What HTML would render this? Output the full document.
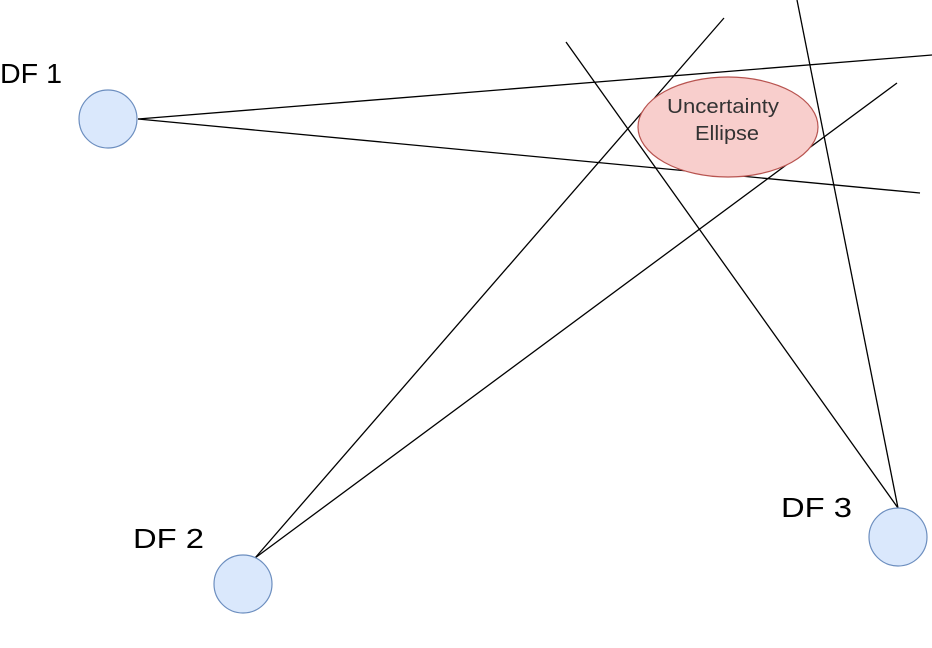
<!DOCTYPE html>
<html><head><style>body{margin:0;background:#fff}svg{display:block}</style></head>
<body>
<svg width="932" height="648" viewBox="0 0 932 648" xmlns="http://www.w3.org/2000/svg" font-family="Liberation Sans, sans-serif">
<g stroke="#000" stroke-width="1.3">
<line x1="138" y1="119" x2="932" y2="55"/>
<line x1="138" y1="119" x2="920" y2="193"/>
<line x1="255" y1="558" x2="724" y2="18"/>
<line x1="255" y1="558" x2="897" y2="83"/>
<line x1="898" y1="508" x2="566" y2="42"/>
<line x1="898" y1="508" x2="797" y2="0"/>
</g>
<ellipse cx="728" cy="127" rx="90" ry="50" fill="#f8cecc" stroke="#b85450" stroke-width="1.2"/>
<text x="667" y="113" font-size="20" textLength="112" lengthAdjust="spacingAndGlyphs" fill="#333">Uncertainty</text>
<text x="695" y="140" font-size="20" textLength="64" lengthAdjust="spacingAndGlyphs" fill="#333">Ellipse</text>
<g fill="#dae8fc" stroke="#6c8ebf" stroke-width="1.2">
<circle cx="108" cy="119" r="29"/>
<circle cx="243" cy="584" r="29"/>
<circle cx="898" cy="537" r="29"/>
</g>
<g font-size="28" fill="#000">
<text x="0" y="83" textLength="62" lengthAdjust="spacingAndGlyphs">DF 1</text>
<text x="133" y="548" textLength="71" lengthAdjust="spacingAndGlyphs">DF 2</text>
<text x="781" y="517" textLength="71" lengthAdjust="spacingAndGlyphs">DF 3</text>
</g>
</svg>
</body></html>
